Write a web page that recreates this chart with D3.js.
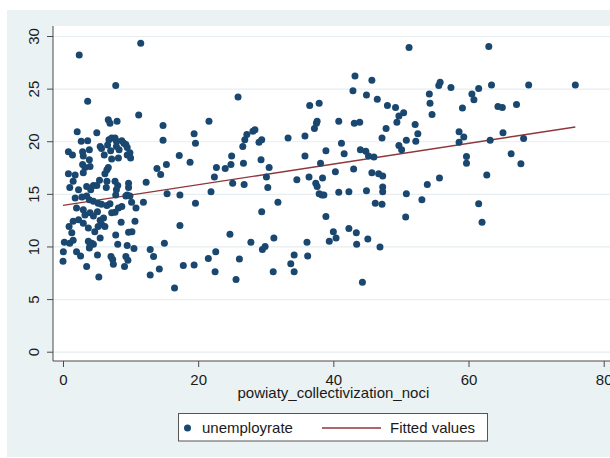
<!DOCTYPE html>
<html>
<head>
<meta charset="utf-8">
<script src="https://cdn.jsdelivr.net/npm/d3@7"></script>
<style>
  html, body { margin: 0; padding: 0; background: #ffffff; }
  svg { display: block; font-family: "Liberation Sans", Arial, sans-serif; }
</style>
</head>
<body>
<svg id="chart" width="610" height="458"></svg>
<script>
// powiaty: share of collectivized land (x) vs. unemployment rate (y)
const collectivization = [
  7.8, 3.65, 11.2, 6.7, 6.95, 8.0, 2.1, 5.0, 14.8, 14.8, 21.6, 19.4, 19.6, 2.7, 3.65,
  6.8, 7.2, 7.7, 7.9, 8.7, 9.0, 5.5, 5.7, 6.6, 7.05, 7.9, 8.3, 9.3, 9.5,
  0.8, 1.4, 2.9, 3.9, 3.0, 3.9, 6.1, 7.2, 8.2, 9.5, 9.9, 10.0,
  2.9, 3.25, 3.0, 4.0, 6.5, 6.2, 6.7, 0.8, 1.8, 1.5, 1.0,
  5.4, 4.5, 4.1, 5.0, 6.5, 6.4, 3.5, 2.3, 7.7, 8.1, 7.9, 7.8, 9.7, 9.7, 9.5,
  12.3, 13.9, 14.45, 15.3, 17.2, 18.8, 22.7, 22.4, 21.9, 15.4, 17.3, 19.6, 17.3,
  1.8, 2.8, 3.5, 3.9, 4.5, 5.2, 5.7, 6.5, 6.95, 7.2, 7.7, 8.2, 8.7, 9.3, 9.9, 10.15, 10.8, 11.9,
  2.0, 3.0, 3.25, 4.0, 4.5, 5.1, 5.5, 6.0,
  1.5, 2.3, 3.0, 0.9, 1.3, 3.75, 4.7, 5.2, 5.7, 6.2,
  8.6, 10.65, 10.2, 9.7, 7.8, 5.5, 0.2, 1.0, 1.5, 0.05,
  3.75, 4.25, 4.0, 4.5, 3.9, 8.1, 9.5, 10.5, 15.0, 2.0, 2.6,
  5.1, 7.1, 7.35, 7.45, 9.3, 9.6, 0.0, 3.5, 9.1,
  12.9, 13.4, 12.9, 14.25, 17.8, 19.4, 21.5, 22.6, 22.5, 5.3, 16.5,
  2.4, 11.5,
  43.2, 45.7, 42.9, 44.9, 46.5, 48.0, 49.2, 49.7, 49.4,
  25.9, 36.5, 37.9, 37.6, 37.5, 37.2, 40.8, 43.1, 43.9, 47.8,
  27.2, 26.9, 28.1, 28.4, 26.6, 29.4, 29.0, 33.3, 35.8, 41.2, 41.6, 47.2, 49.7,
  24.95, 24.85, 24.0, 26.7, 29.3, 30.5, 25.1, 26.8, 30.1, 30.3,
  35.8, 38.1, 38.9, 34.6, 36.4, 37.4, 37.6, 38.4, 37.9, 38.3, 38.6,
  40.3, 40.8, 42.3, 43.0, 44.0, 44.8, 45.2, 46.0, 45.7, 46.7, 47.3,
  44.9, 47.3, 47.3, 46.2, 47.2, 29.4, 31.8, 38.9, 24.7,
  26.1, 25.6, 27.8, 29.5, 29.9, 31.2, 31.1, 33.7, 34.2, 34.2, 36.1, 36.2,
  39.4, 40.0, 40.4, 42.3, 43.4, 43.45, 45.1, 46.9, 44.3,
  51.2, 63.0, 55.6, 55.8, 54.2, 54.3, 54.6, 57.4, 50.4, 52.1, 52.5,
  50.1, 50.8, 52.2, 60.5, 60.8, 61.5, 63.4, 59.1, 68.9, 75.8,
  64.35, 65.0, 67.1, 58.6, 59.3, 58.6, 63.2, 65.1, 68.15, 59.7, 59.7,
  66.3, 67.75, 50.8, 50.7, 53.1, 53.9, 55.7, 62.7, 61.5, 62.0
];

const unemployrate = [
  25.3, 23.8, 22.5, 22.05, 21.7, 21.9, 20.9, 20.8, 21.5, 20.1, 21.9, 20.7, 19.8, 20.0, 20.05,
  20.15, 20.3, 20.3, 20.0, 20.05, 19.8, 19.5, 19.3, 19.65, 19.1, 19.5, 19.2, 19.7, 19.4,
  19.0, 18.7, 19.0, 19.2, 18.6, 18.25, 18.7, 18.3, 18.4, 18.7, 18.9, 18.4,
  17.8, 17.5, 17.0, 17.6, 17.3, 16.9, 17.5, 16.9, 16.8, 16.2, 15.6,
  16.3, 15.8, 15.4, 15.8, 16.2, 15.6, 15.7, 15.4, 16.2, 15.8, 15.4, 14.9, 16.0, 15.6, 14.9,
  16.1, 17.4, 16.85, 17.8, 18.65, 18.0, 17.5, 16.6, 15.2, 15.0, 14.9, 14.1, 12.0,
  14.6, 14.7, 14.8, 14.45, 14.3, 14.1, 14.0, 13.9, 14.05, 13.2, 13.25, 13.65, 13.8, 14.8, 14.8, 14.2, 13.65, 14.2,
  13.65, 13.5, 13.0, 13.2, 12.9, 13.3, 12.5, 12.7,
  12.4, 12.55, 12.2, 11.9, 11.3, 11.75, 11.4, 11.9, 12.1, 11.9,
  12.3, 12.4, 11.4, 11.35, 11.1, 10.8, 10.4, 10.3, 10.6, 9.5,
  10.5, 10.3, 10.1, 10.2, 9.85, 10.2, 10.1, 9.8, 10.3, 9.5, 9.1,
  9.2, 9.05, 8.75, 8.3, 9.05, 8.7, 8.6, 8.1, 8.1,
  9.7, 9.05, 7.3, 7.85, 8.2, 8.25, 8.85, 9.5, 7.6, 7.1, 6.05,
  28.2, 29.3,
  26.2, 25.8, 24.8, 24.4, 24.0, 23.4, 23.2, 22.4, 21.8,
  24.2, 23.4, 23.6, 21.9, 21.7, 21.2, 21.9, 21.7, 21.8, 21.2,
  20.65, 20.15, 20.95, 21.1, 19.5, 20.15, 19.9, 20.3, 20.5, 19.8, 18.8, 20.3, 19.6,
  18.6, 17.8, 17.4, 17.9, 18.25, 17.5, 16.0, 15.9, 16.6, 15.6,
  18.6, 17.9, 19.1, 16.35, 16.6, 16.0, 15.7, 16.5, 15.0, 14.9, 14.9,
  17.1, 15.15, 15.2, 17.35, 19.2, 19.05, 18.6, 18.5, 17.0, 16.9, 16.7,
  15.3, 15.65, 15.2, 14.1, 14.0, 13.3, 14.2, 12.85, 11.15,
  8.8, 6.85, 10.4, 9.7, 10.0, 10.8, 7.6, 8.35, 9.2, 7.6, 10.4, 9.1,
  10.5, 11.4, 10.8, 11.7, 11.3, 10.2, 10.7, 9.95, 6.6,
  28.9, 29.0, 25.3, 25.6, 24.5, 23.6, 22.55, 25.1, 22.7, 21.6, 20.7,
  19.2, 20.1, 20.0, 24.5, 23.95, 25.0, 25.35, 23.15, 25.35, 25.35,
  23.3, 23.2, 23.5, 20.9, 20.4, 19.9, 20.1, 20.8, 20.25, 18.55, 17.9,
  18.8, 17.85, 15.0, 12.8, 14.45, 15.9, 16.5, 16.8, 14.05, 12.3
];

// linear fit, evaluated at the ends of the x range
const fittedX = [0, 75.8];
const fittedY = [13.9, 21.35];

const xTicks = [0, 20, 40, 60, 80];
const yTicks = [0, 5, 10, 15, 20, 25, 30];

const legendLabels = ["unemployrate", "Fitted values"];

const dotColor = "#1a476f";
const fitColor = "#90353b";
const panelColor = "#eaf2f3";

const svg = d3.select("#chart");

// outer graph region
svg.append("rect")
  .attr("x", 7).attr("y", 10)
  .attr("width", 603).attr("height", 447)
  .attr("fill", panelColor);

// plot region
const plotLeft = 53, plotTop = 26, plotRight = 610, plotBottom = 361;
svg.append("rect")
  .attr("x", plotLeft).attr("y", plotTop)
  .attr("width", plotRight - plotLeft).attr("height", plotBottom - plotTop)
  .attr("fill", "#ffffff");

const x = d3.scaleLinear().domain([0, 80]).range([63, 603.7]);
const y = d3.scaleLinear().domain([0, 30]).range([351.7, 36]);

// horizontal grid lines
svg.append("g")
  .attr("transform", `translate(${plotLeft},0)`)
  .call(d3.axisLeft(y).tickValues(yTicks).tickSize(-(plotRight - plotLeft)).tickFormat(""))
  .call(g => g.select(".domain").remove())
  .call(g => g.selectAll("line").attr("stroke", "#e6eef1").attr("stroke-width", 1.2));

// fitted line
svg.append("line")
  .attr("x1", x(fittedX[0])).attr("y1", y(fittedY[0]))
  .attr("x2", x(fittedX[1])).attr("y2", y(fittedY[1]))
  .attr("stroke", fitColor).attr("stroke-width", 1.4);

// scatter
const points = collectivization.map((v, i) => ({ x: v, y: unemployrate[i] }));
svg.append("g")
  .selectAll("circle")
  .data(points)
  .join("circle")
  .attr("cx", d => x(d.x))
  .attr("cy", d => y(d.y))
  .attr("r", 3.5)
  .attr("fill", dotColor);

// axes lines
const axisColor = "#4a4a4a";
svg.append("line")
  .attr("x1", plotLeft).attr("x2", plotRight)
  .attr("y1", plotBottom).attr("y2", plotBottom)
  .attr("stroke", axisColor).attr("stroke-width", 1);
svg.append("line")
  .attr("x1", plotLeft).attr("x2", plotLeft)
  .attr("y1", plotTop).attr("y2", plotBottom)
  .attr("stroke", axisColor).attr("stroke-width", 1);

// x axis
svg.append("g")
  .attr("transform", `translate(0,${plotBottom})`)
  .call(d3.axisBottom(x).tickValues(xTicks).tickSize(6).tickPadding(7))
  .call(g => g.select(".domain").remove())
  .call(g => g.selectAll("line").attr("stroke", axisColor))
  .call(g => g.selectAll("text")
    .attr("fill", "#1a1a1a")
    .style("font-size", "15px")
    .style("font-family", "'Liberation Sans', Arial, sans-serif"));

// y axis, labels turned to read upward
svg.append("g")
  .attr("transform", `translate(${plotLeft},0)`)
  .call(d3.axisLeft(y).tickValues(yTicks).tickSize(6))
  .call(g => g.select(".domain").remove())
  .call(g => g.selectAll("line").attr("stroke", axisColor))
  .call(g => g.selectAll("text")
    .attr("x", null).attr("dy", null)
    .attr("transform", "translate(-14.5,0) rotate(-90)")
    .attr("text-anchor", "middle")
    .attr("fill", "#1a1a1a")
    .style("font-size", "15px")
    .style("font-family", "'Liberation Sans', Arial, sans-serif"));

// x axis title
svg.append("text")
  .attr("x", (x(0) + x(80)) / 2)
  .attr("y", 398)
  .attr("text-anchor", "middle")
  .attr("fill", "#1a1a1a")
  .style("font-size", "15px")
  .text("powiaty_collectivization_noci");

// legend
const legend = svg.append("g");
legend.append("rect")
  .attr("x", 178.5).attr("y", 413.5)
  .attr("width", 309).attr("height", 27.5)
  .attr("fill", "#ffffff")
  .attr("stroke", "#555555").attr("stroke-width", 1);
legend.append("circle")
  .attr("cx", 187.5).attr("cy", 428)
  .attr("r", 3.5)
  .attr("fill", dotColor);
legend.append("text")
  .attr("x", 202).attr("y", 433)
  .attr("fill", "#1a1a1a")
  .style("font-size", "15px")
  .text(legendLabels[0]);
legend.append("line")
  .attr("x1", 322).attr("x2", 381)
  .attr("y1", 428).attr("y2", 428)
  .attr("stroke", fitColor).attr("stroke-width", 1.4);
legend.append("text")
  .attr("x", 390).attr("y", 433)
  .attr("fill", "#1a1a1a")
  .style("font-size", "15px")
  .text(legendLabels[1]);
</script>
</body>
</html>
